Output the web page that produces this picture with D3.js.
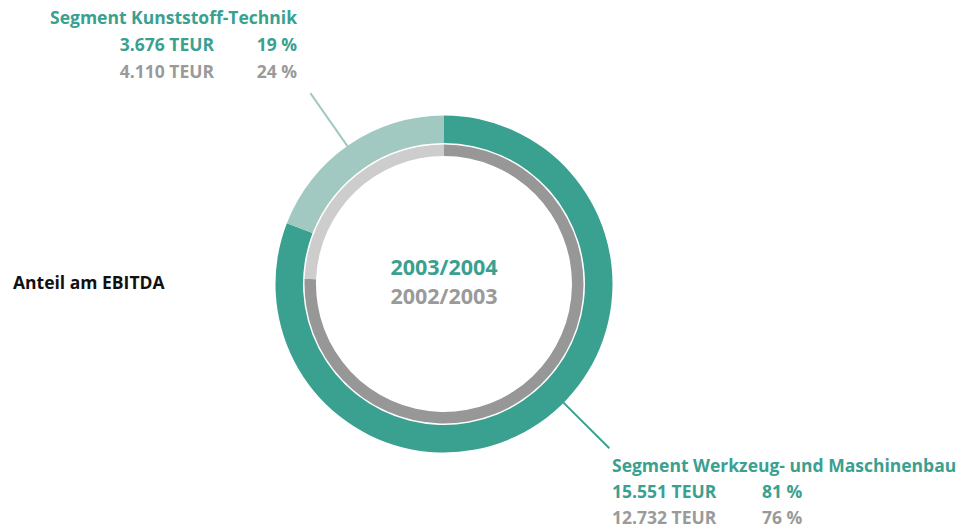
<!DOCTYPE html>
<html><head><meta charset="utf-8">
<script src="https://cdn.jsdelivr.net/npm/d3@7"></script>
<style>body{margin:0;background:#fff}text{font-family:"Open Sans",sans-serif;font-weight:700}</style>
</head><body><svg id="c" width="979" height="528"></svg>
<script>
const segments = ["Segment Werkzeug- und Maschinenbau", "Segment Kunststoff-Technik"];
const teur2004 = [15551, 3676];
const teur2003 = [12732, 4110];
const pct2004 = ["81 %", "19 %"];
const pct2003 = ["76 %", "24 %"];
const teurLabels2004 = ["15.551 TEUR", "3.676 TEUR"];
const teurLabels2003 = ["12.732 TEUR", "4.110 TEUR"];
const years = ["2003/2004", "2002/2003"];
const title = "Anteil am EBITDA";

const teal = "#3aa08f", lightTeal = "#a1c9c2", dark = "#979797", light = "#cdcdcd", grayText = "#9a9a9a";
const svg = d3.select("#c");
const cx = 444, cy = 284;
const g = svg.append("g").attr("transform", `translate(${cx},${cy})`);
const pie = d3.pie().sort(null).value(d => d);

const outerArc = d3.arc().innerRadius(141).outerRadius(168.5);
const innerArc = d3.arc().innerRadius(128).outerRadius(139.5);

g.selectAll("path.o").data(pie(teur2004)).join("path").attr("class","o")
  .attr("d", outerArc).attr("fill", (d,i) => [teal, lightTeal][i]);
g.selectAll("path.i").data(pie(teur2003)).join("path").attr("class","i")
  .attr("d", innerArc).attr("fill", (d,i) => [dark, light][i]);

// leader lines (radial)
const leaderAngles = [134.8, 325];
leaderAngles.forEach((a,i) => {
  const r = a*Math.PI/180;
  g.append("line")
    .attr("x1", Math.sin(r)*168).attr("y1", -Math.cos(r)*168)
    .attr("x2", Math.sin(r)*233).attr("y2", -Math.cos(r)*233)
    .attr("stroke", [teal, lightTeal][i]).attr("stroke-width", 2);
});

// center labels
g.append("text").attr("x", 0).attr("y", -9).attr("text-anchor","middle")
  .attr("font-size", 21.5).attr("fill", teal).text(years[0]);
g.append("text").attr("x", 0).attr("y", 20).attr("text-anchor","middle")
  .attr("font-size", 21.5).attr("fill", grayText).text(years[1]);

// title
svg.append("text").attr("x", 13).attr("y", 289).attr("font-size", 17.5).attr("fill", "#111").text(title);

// top-left label block (Kunststoff)
const fs = 17.5;
svg.append("text").attr("x", 297).attr("y", 24).attr("text-anchor","end").attr("font-size", fs).attr("fill", teal).text(segments[1]);
svg.append("text").attr("x", 214).attr("y", 51).attr("text-anchor","end").attr("font-size", fs).attr("fill", teal).text(teurLabels2004[1]);
svg.append("text").attr("x", 297).attr("y", 51).attr("text-anchor","end").attr("font-size", fs).attr("fill", teal).text(pct2004[1]);
svg.append("text").attr("x", 214).attr("y", 78).attr("text-anchor","end").attr("font-size", fs).attr("fill", grayText).text(teurLabels2003[1]);
svg.append("text").attr("x", 297).attr("y", 78).attr("text-anchor","end").attr("font-size", fs).attr("fill", grayText).text(pct2003[1]);

// bottom-right label block (Werkzeug)
svg.append("text").attr("x", 612).attr("y", 472).attr("font-size", fs).attr("fill", teal).text(segments[0]);
svg.append("text").attr("x", 612).attr("y", 498).attr("font-size", fs).attr("fill", teal).text(teurLabels2004[0]);
svg.append("text").attr("x", 762).attr("y", 498).attr("font-size", fs).attr("fill", teal).text(pct2004[0]);
svg.append("text").attr("x", 612).attr("y", 524).attr("font-size", fs).attr("fill", grayText).text(teurLabels2003[0]);
svg.append("text").attr("x", 762).attr("y", 524).attr("font-size", fs).attr("fill", grayText).text(pct2003[0]);
</script></body></html>
